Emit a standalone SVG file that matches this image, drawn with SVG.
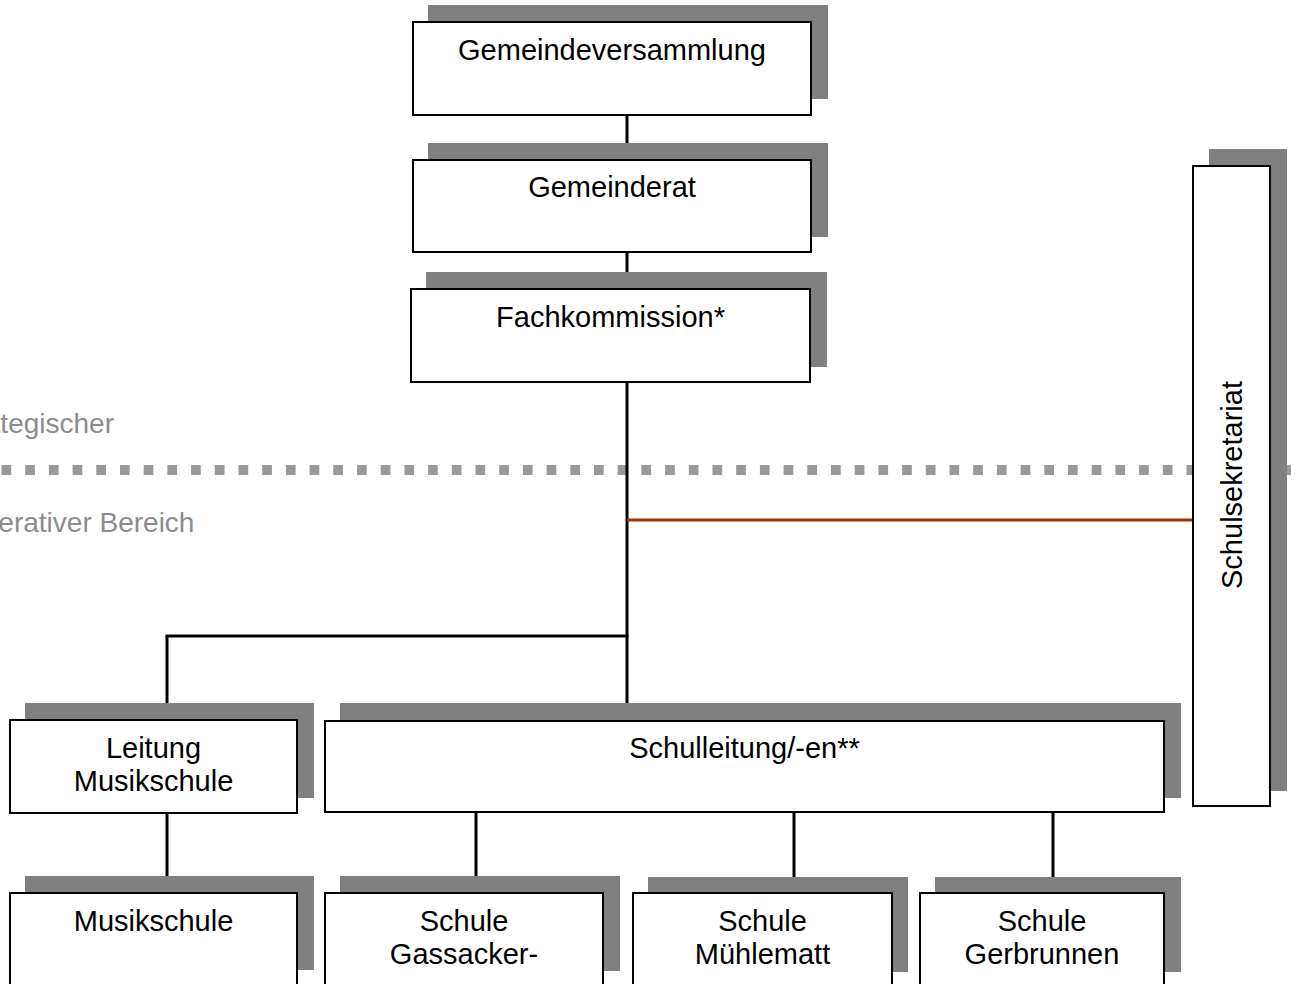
<svg xmlns="http://www.w3.org/2000/svg" width="1296" height="984" viewBox="0 0 1296 984">
<style>
.sh{fill:#808080;stroke:none}
.bx{fill:#fff;stroke:#000;stroke-width:2}
.t{font-family:"Liberation Sans",Arial,sans-serif;font-size:29px;fill:#000;text-anchor:middle}
.g{font-family:"Liberation Sans",Arial,sans-serif;font-size:28px;fill:#8c8c8c}
.c{stroke:#000;stroke-width:3;fill:none}
</style>
<rect width="1296" height="984" fill="#fff"/>
<g id="bands">
<line x1="1.5" y1="470" x2="1296" y2="470" stroke="#999" stroke-width="10" stroke-dasharray="9.7 14"/>
<text class="g" x="-51" y="433">Strategischer</text>
<text class="g" x="-39" y="532">Operativer Bereich</text>
</g>
<g id="connectors">
<line class="c" x1="627" y1="115" x2="627" y2="162"/>
<line class="c" x1="627" y1="252" x2="627" y2="290"/>
<line class="c" x1="627" y1="382" x2="627" y2="705"/>
<line class="c" x1="165.5" y1="636" x2="628.5" y2="636"/>
<line class="c" x1="167" y1="636" x2="167" y2="705"/>
<line x1="627" y1="520" x2="1194" y2="520" stroke="#993300" stroke-width="3"/>
<line class="c" x1="167" y1="813" x2="167" y2="878"/>
<line class="c" x1="476" y1="812" x2="476" y2="878"/>
<line class="c" x1="794" y1="812" x2="794" y2="878"/>
<line class="c" x1="1053" y1="812" x2="1053" y2="878"/>
</g>
<g id="n-gemeindeversammlung">
<rect class="sh" x="428" y="5" width="400" height="94"/>
<rect class="bx" x="413" y="22" width="398" height="93"/>
<text class="t" x="612" y="60">Gemeindeversammlung</text>
</g>
<g id="n-gemeinderat">
<rect class="sh" x="428" y="143" width="400" height="94"/>
<rect class="bx" x="413" y="160" width="398" height="92"/>
<text class="t" x="612" y="197">Gemeinderat</text>
</g>
<g id="n-fachkommission">
<rect class="sh" x="426" y="272" width="401" height="95"/>
<rect class="bx" x="411" y="289" width="399" height="93"/>
<text class="t" x="610.5" y="327">Fachkommission*</text>
</g>
<g id="n-schulsekretariat">
<rect class="sh" x="1209" y="149" width="78" height="642"/>
<rect class="bx" x="1193" y="166" width="77" height="640"/>
<text class="t" transform="translate(1242,485) rotate(-90)">Schulsekretariat</text>
</g>
<g id="n-leitung-musikschule">
<rect class="sh" x="25" y="703" width="289" height="95"/>
<rect class="bx" x="10" y="720" width="287" height="93"/>
<text class="t" x="153.5" y="758">Leitung</text>
<text class="t" x="153.5" y="791">Musikschule</text>
</g>
<g id="n-schulleitung">
<rect class="sh" x="340" y="703" width="841" height="95"/>
<rect class="bx" x="325" y="721" width="839" height="91"/>
<text class="t" x="744.5" y="758">Schulleitung/-en**</text>
</g>
<g id="n-musikschule">
<rect class="sh" x="25" y="876" width="289" height="94"/>
<rect class="bx" x="10" y="893" width="287" height="93"/>
<text class="t" x="153.5" y="931">Musikschule</text>
</g>
<g id="n-gassacker">
<rect class="sh" x="340" y="876" width="280" height="95"/>
<rect class="bx" x="325" y="893" width="278" height="93"/>
<text class="t" x="464" y="931">Schule</text>
<text class="t" x="464" y="964">Gassacker-</text>
</g>
<g id="n-muehlematt">
<rect class="sh" x="648" y="877" width="260" height="95"/>
<rect class="bx" x="633" y="893" width="259" height="93"/>
<text class="t" x="762.5" y="931">Schule</text>
<text class="t" x="762.5" y="964">Mühlematt</text>
</g>
<g id="n-gerbrunnen">
<rect class="sh" x="935" y="877" width="246" height="95"/>
<rect class="bx" x="920" y="893" width="244" height="93"/>
<text class="t" x="1042" y="931">Schule</text>
<text class="t" x="1042" y="964">Gerbrunnen</text>
</g>
</svg>
